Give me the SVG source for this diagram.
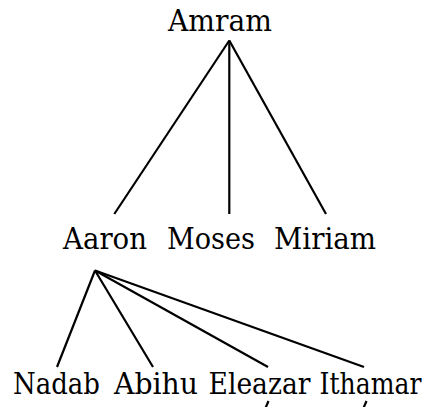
<svg xmlns="http://www.w3.org/2000/svg" width="429" height="407" viewBox="0 0 429 407">
<defs>
<style type="text/css">
.e{stroke:#000;stroke-width:2.2;fill:none}
.t{font-family:"DejaVu Serif","Liberation Serif",serif;font-size:30px;fill:#000}
</style>
</defs>
<rect width="429" height="407" fill="#fff"/>
<g id="connectors">
<line class="e" x1="229.3" y1="40.5" x2="114.3" y2="214"/>
<line class="e" x1="229.3" y1="40.5" x2="229.3" y2="214"/>
<line class="e" x1="229.3" y1="40.5" x2="326" y2="214"/>
<line class="e" x1="95" y1="270.5" x2="57" y2="367"/>
<line class="e" x1="95" y1="270.5" x2="153" y2="367"/>
<line class="e" x1="95" y1="270.5" x2="268" y2="367"/>
<line class="e" x1="95" y1="270.5" x2="364" y2="367"/>
<line class="e" x1="268.5" y1="401" x2="265.5" y2="408"/>
<line class="e" x1="366.5" y1="401" x2="363.5" y2="408"/>
</g>
<g id="amram"><text class="t" x="168" y="31" textLength="104" lengthAdjust="spacingAndGlyphs">Amram</text></g>
<g id="aaron"><text class="t" x="63" y="248.5" textLength="84" lengthAdjust="spacingAndGlyphs">Aaron</text></g>
<g id="moses"><text class="t" x="167" y="248.5" textLength="88" lengthAdjust="spacingAndGlyphs">Moses</text></g>
<g id="miriam"><text class="t" x="274" y="248.5" textLength="102" lengthAdjust="spacingAndGlyphs">Miriam</text></g>
<g id="nadab"><text class="t" x="13" y="393.5" textLength="87" lengthAdjust="spacingAndGlyphs">Nadab</text></g>
<g id="abihu"><text class="t" x="114" y="393.5" textLength="84" lengthAdjust="spacingAndGlyphs">Abihu</text></g>
<g id="eleazar"><text class="t" x="208.5" y="393.5" textLength="102" lengthAdjust="spacingAndGlyphs">Eleazar</text></g>
<g id="ithamar"><text class="t" transform="translate(319.5,393.5) scale(0.85,1)" x="0" y="0" textLength="120" lengthAdjust="spacingAndGlyphs">Ithamar</text></g>
</svg>
